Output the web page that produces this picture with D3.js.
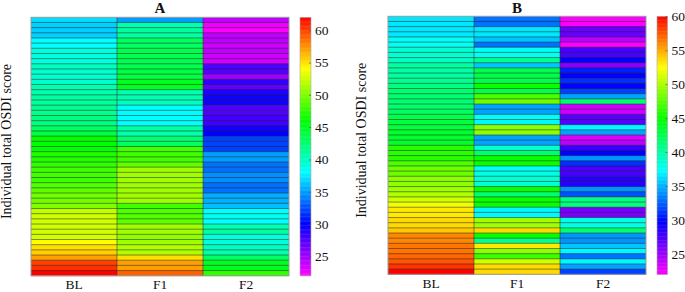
<!DOCTYPE html>
<html><head><meta charset="utf-8">
<script src="https://cdn.jsdelivr.net/npm/d3@7"></script>
<style>
html,body{margin:0;padding:0;background:#fff}
svg{display:block}
text{font-family:"Liberation Serif",serif;fill:#111}
</style></head><body><svg id="c" width="685" height="292"></svg>
<script>
const visits = ["BL","F1","F2"];
const yLabel = "Individual total OSDI score";
const barTicksA = [25,30,35,40,45,50,55,60];
const barTicksB = [25,30,35,40,45,50,55,60];
const domainA = [22,62];
const domainB = [22,60];

const A_BL = [37,36.5,36.5,36.5,38,38,39,39,39,40,39.5,39.5,39.5,40.5,40.5,41,41,41.5,41.5,42,42,43,44,46,46,46,47,47,47.5,48,48,48,48.5,49,49.5,49.5,50,52,52.5,52.5,52.5,52.5,52.5,54,55,55.5,57,60,60.5,62];
const A_F1 = [35,40.5,41,41,43,43,43.5,43.5,43.5,43.5,44,44,45,45,40.5,40.5,40,38,38,38,38,41,40.5,42.5,43,48,48,48,49,51,51,51,51,51,51,51,48,48.5,48.5,49,51,51,50.5,51,51.5,51.5,55,57,57,59];
const A_F2 = [24,22.5,22,24,24,23.5,24,23.5,23.5,27.5,27.5,25,28.5,27,29,29.5,29.5,27.5,27.5,28,28,29.5,30,32,32,32,35,35,33.5,33.5,34.5,34.5,33.5,33.5,35.5,35.5,36,38,38.5,38,40.5,41,39,39,40,40.5,43,45,45,47.5];

const B_BL = [36.5,36.5,36.5,36.5,37.5,37.5,38.5,38.5,39,40,40,40,40.5,41,41.5,41.5,41.5,41.5,42,42.5,43,43,43.5,43.5,43.5,46,46,46,47,48,48,49,49,49.5,50,51,52,53,53,53.5,53.5,54,56,56,56.5,56.5,57,57.5,58.5,60];
const B_F1 = [33,33,36.5,36.5,35.5,33,37.5,37.5,40.5,35.5,42.5,42.5,42.5,45,42.5,47,48,34.5,34.5,37.5,37,49,49,34.5,34.5,38.5,41.5,45,45,37.5,38,38.5,38.5,45,41.5,45,45,37,37,49.5,49.5,53.5,45,40.5,53,49,46.5,51,53.5,53.5];
const B_F2 = [22,22,26.5,26.5,24,22,27.5,27.5,29.5,25.5,30.5,29.5,31,29.5,31.5,34.5,41.5,23.5,23.5,27,27,37,34.5,23,24,28,29.5,34,31,27.5,27.5,28.5,28.5,34,32,41,41,26,26,38,38,41.5,34,34,35.5,37,33,37,34.5,31.5];

const svg = d3.select("#c");

function panel(cfg){
  const {title,cols,domain,ticks,x0,x1,y0,y1,bx0,bx1,lx,titleY} = cfg;
  const hue = d3.scaleLinear().domain(domain).range([300,0]);
  const color = v => d3.hsl(hue(v),1,0.5).formatRgb();
  const n = cols[0].length;
  const x = d3.scaleBand().domain(visits).range([x0,x1]);
  const y = d3.scaleBand().domain(d3.range(n)).range([y0,y1]);
  const g = svg.append("g");

  visits.forEach((v,j)=>{
    g.append("g").selectAll("rect").data(cols[j]).join("rect")
      .attr("x",x(v)).attr("width",x.bandwidth())
      .attr("y",(d,i)=>y(i)).attr("height",y.bandwidth()+0.5)
      .attr("fill",d=>color(d));
  });
  g.append("g").selectAll("line").data(d3.range(1,n)).join("line")
    .attr("x1",x0).attr("x2",x1).attr("y1",i=>y(i)).attr("y2",i=>y(i))
    .attr("stroke","#222").attr("stroke-opacity",0.65).attr("stroke-width",0.8);
  g.append("g").selectAll("line").data(visits.slice(1)).join("line")
    .attr("x1",v=>x(v)).attr("x2",v=>x(v)).attr("y1",y0).attr("y2",y1)
    .attr("stroke","#333").attr("stroke-opacity",0.7).attr("stroke-width",0.8);
  g.append("rect").attr("x",x0).attr("y",y0).attr("width",x1-x0).attr("height",y1-y0)
    .attr("fill","none").attr("stroke","#999").attr("stroke-width",1);

  const xAxis = d3.axisBottom(x).tickSize(0).tickPadding(4);
  const xg = g.append("g").attr("transform",`translate(0,${y1})`).call(xAxis);
  xg.select(".domain").remove();
  xg.selectAll("text").attr("font-family","Liberation Serif").attr("font-size",13.5);

  g.append("text").attr("x",(x0+x1)/2).attr("y",titleY).attr("text-anchor","middle")
    .attr("font-size",15).attr("font-weight","bold").text(title);
  g.append("text").attr("transform",`translate(${lx},${(y0+y1)/2-5}) rotate(-90)`)
    .attr("text-anchor","middle").attr("font-size",14).text(yLabel);

  // colour bar
  const by = d3.scaleLinear().domain(domain).range([y1,y0]);
  const steps = d3.range(domain[0],domain[1],0.2);
  g.append("g").selectAll("rect").data(steps).join("rect")
    .attr("x",bx0).attr("width",bx1-bx0)
    .attr("y",d=>by(d+0.2)).attr("height",d=>by(d)-by(d+0.2)+0.4)
    .attr("fill",d=>color(d));
  g.append("rect").attr("x",bx0).attr("y",y0).attr("width",bx1-bx0).attr("height",y1-y0)
    .attr("fill","none").attr("stroke","#aaa").attr("stroke-width",0.6);
  const bAxis = d3.axisRight(by).tickValues(ticks).tickSize(-2).tickPadding(4);
  const bg = g.append("g").attr("transform",`translate(${bx1},0)`).call(bAxis);
  bg.select(".domain").remove();
  bg.selectAll("line").attr("stroke","#444").attr("stroke-width",0.6);
  bg.selectAll("text").attr("font-family","Liberation Serif").attr("font-size",13.5);
}

panel({title:"A",cols:[A_BL,A_F1,A_F2],domain:domainA,ticks:barTicksA,
  x0:31,x1:289,y0:17.3,y1:275.7,bx0:300,bx1:311,lx:11,titleY:13.4});
panel({title:"B",cols:[B_BL,B_F1,B_F2],domain:domainB,ticks:barTicksB,
  x0:388,x1:646,y0:16.3,y1:274.3,bx0:657,bx1:667.5,lx:366,titleY:13.4});
</script></body></html>
